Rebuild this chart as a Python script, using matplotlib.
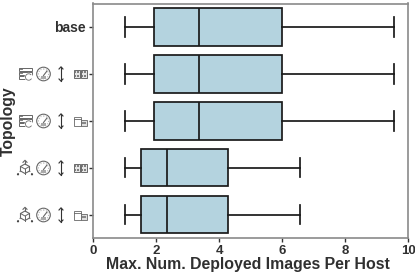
import matplotlib
matplotlib.use("Agg")
import matplotlib.pyplot as plt
from matplotlib.patches import Rectangle, Circle, Wedge, FancyBboxPatch, Polygon
from matplotlib.lines import Line2D

plt.rcParams['font.family'] = ['Liberation Sans', 'DejaVu Sans']

categories = ["base", "rack_full", "rack_half", "zone_full", "zone_half"]
whisker_low = [1.0, 1.0, 1.0, 1.0, 1.0]
q1 = [1.95, 1.95, 1.95, 1.53, 1.53]
median = [3.35, 3.35, 3.35, 2.35, 2.35]
q3 = [6.0, 6.0, 6.0, 4.27, 4.27]
whisker_high = [9.55, 9.55, 9.55, 6.57, 6.57]
xticks = [0, 2, 4, 6, 8, 10]

W, H = 415, 274
DPI = 100
fig = plt.figure(figsize=(W/DPI, H/DPI), dpi=DPI)
L, R, T, B = 93, 408, 3.5, 238
ax = fig.add_axes([L/W, 1-B/H, (R-L)/W, (B-T)/H])
EC = "#1a1a1a"
LW = 1.25
stats = [dict(label=c, whislo=a, q1=b, med=m, q3=d, whishi=e, fliers=[])
         for c, a, b, m, d, e in zip(categories, whisker_low, q1, median, q3, whisker_high)]
ax.bxp(stats, positions=range(len(stats)), vert=False, widths=0.8, patch_artist=True,
       boxprops=dict(facecolor="#b4d3df", edgecolor=EC, linewidth=LW),
       medianprops=dict(color=EC, linewidth=LW),
       whiskerprops=dict(color=EC, linewidth=LW),
       capprops=dict(color=EC, linewidth=LW), capwidths=0.42, showfliers=False)
ax.set_xlim(0, 10)
ax.set_ylim(4.5, -0.5)
ax.set_xticks(xticks)
ax.set_xticklabels([str(t) for t in xticks], fontsize=9.5, fontweight='bold', color="#303030")
ax.set_yticks(range(5))
ax.set_yticklabels(["base", "", "", "", ""], fontsize=10, fontweight='bold', color="#303030")
ax.tick_params(length=3, width=1, color="#333333", pad=2)
for s in ax.spines.values():
    s.set_color("#8a8a8a"); s.set_linewidth(1.2)
fig.text(248/W, 1-265/H, "Max. Num. Deployed Images Per Host", ha='center', va='center',
         fontsize=11.4, fontweight='bold', color="#303030")
fig.text(8.5/W, 1-121/H, "Topology", rotation=90, ha='center', va='center', fontsize=11.3, fontweight='bold', color="#303030")

# icon layer in pixel coordinates (y down)
ov = fig.add_axes([0, 0, 1, 1], facecolor='none')
ov.set_xlim(0, W); ov.set_ylim(H, 0); ov.axis('off')
IC = "#666666"
def line(xs, ys, lw=0.6, c=IC, ls='-'):
    ov.add_line(Line2D(xs, ys, color=c, lw=lw, ls=ls))
def rect(x, y, w, h, fc='none', lw=0.6, ec=IC):
    ov.add_patch(Rectangle((x, y), w, h, fc=fc, ec=ec, lw=lw))
def servers(cx, cy):
    for y in (cy-6.5, cy-2.5):
        rect(cx-7, y, 13, 3.4, fc='white', lw=0.7)
        line([cx-5.5, cx-3.5], [y+1.7, y+1.7], lw=0.6)
    rect(cx-7, cy+1.5, 7, 3.6, fc='white', lw=0.7)
    ov.add_patch(Circle((cx+3.2, cy+3), 4.2, fc='white', ec='none'))
    ov.add_patch(Wedge((cx+3.2, cy+3), 3.6, 30, 320, width=0.8, fc=IC, ec='none'))
def gauge(cx, cy):
    ov.add_patch(Circle((cx, cy), 6.8, fc='none', ec=IC, lw=0.8))
    ov.add_patch(Circle((cx, cy), 5.0, fc='none', ec='#aaaaaa', lw=0.7, ls=':'))
    line([cx, cx+3.5], [cy+1.5, cy-3], lw=0.8)
    rect(cx-2.5, cy+2, 5, 2.6, fc='#aaaaaa', lw=0, ec='none')
def arrow(cx, cy):
    line([cx, cx], [cy-7, cy+7], lw=0.8, c="#333333")
    line([cx-2, cx, cx+2], [cy-5, cy-7.2, cy-5], lw=0.8, c="#333333")
    line([cx-2, cx, cx+2], [cy+5, cy+7.2, cy+5], lw=0.8, c="#333333")
def full(x, cy):
    for dx in (0, 7):
        rect(x+dx, cy-3.7, 6.3, 7.4, fc='#e6e6e6', lw=0.6, ec='#555555')
        for ax_ in (1, 3.5):
            for ay in (-2.7, 0.5):
                rect(x+dx+ax_, cy+ay, 1.8, 2.1, fc='#808080', lw=0, ec='none')
def half(x, cy):
    rect(x, cy-4.5, 7, 9)
    line([x, x+7], [cy-2.5, cy-2.5], lw=0.6)
    rect(x+7, cy-1, 6.5, 5.5, fc='#e0e0e0')
    rect(x+8.5, cy+1, 3.5, 1.8, fc='#888888', lw=0, ec='none')
def tree(cx, cy):
    ov.add_patch(Polygon([(cx-4.5, cy-1.5), (cx, cy-4), (cx+4.5, cy-1.5), (cx+4.5, cy+3),
                          (cx, cy+5.5), (cx-4.5, cy+3)], closed=True, fc='white', ec=IC, lw=0.8))
    line([cx-4.5, cx, cx+4.5], [cy-1.5, cy+1, cy-1.5], lw=0.7)
    line([cx, cx], [cy+1, cy+5.5], lw=0.7)
    line([cx, cx], [cy-7.5, cy-4], lw=0.8)
    line([cx-2, cx, cx+2], [cy-5.7, cy-7.7, cy-5.7], lw=0.8)
    line([cx-4.5, cx-7], [cy+3, cy+6], lw=0.8, ls=':')
    line([cx+4.5, cx+7], [cy+3, cy+6], lw=0.8, ls=':')
    ov.add_patch(Circle((cx-7, cy+6.3), 1.1, fc='#444444', ec='none'))
    ov.add_patch(Circle((cx+7, cy+6.3), 1.1, fc='#444444', ec='none'))
rows = [(74, servers, 25.5, full), (121, servers, 25.5, half), (168, tree, 25, full), (215, tree, 25, half)]
for cy, first, fx, last in rows:
    first(fx, cy)
    gauge(43.5, cy)
    arrow(61, cy)
    last(73.5, cy)
fig.savefig("out.png", dpi=DPI)
